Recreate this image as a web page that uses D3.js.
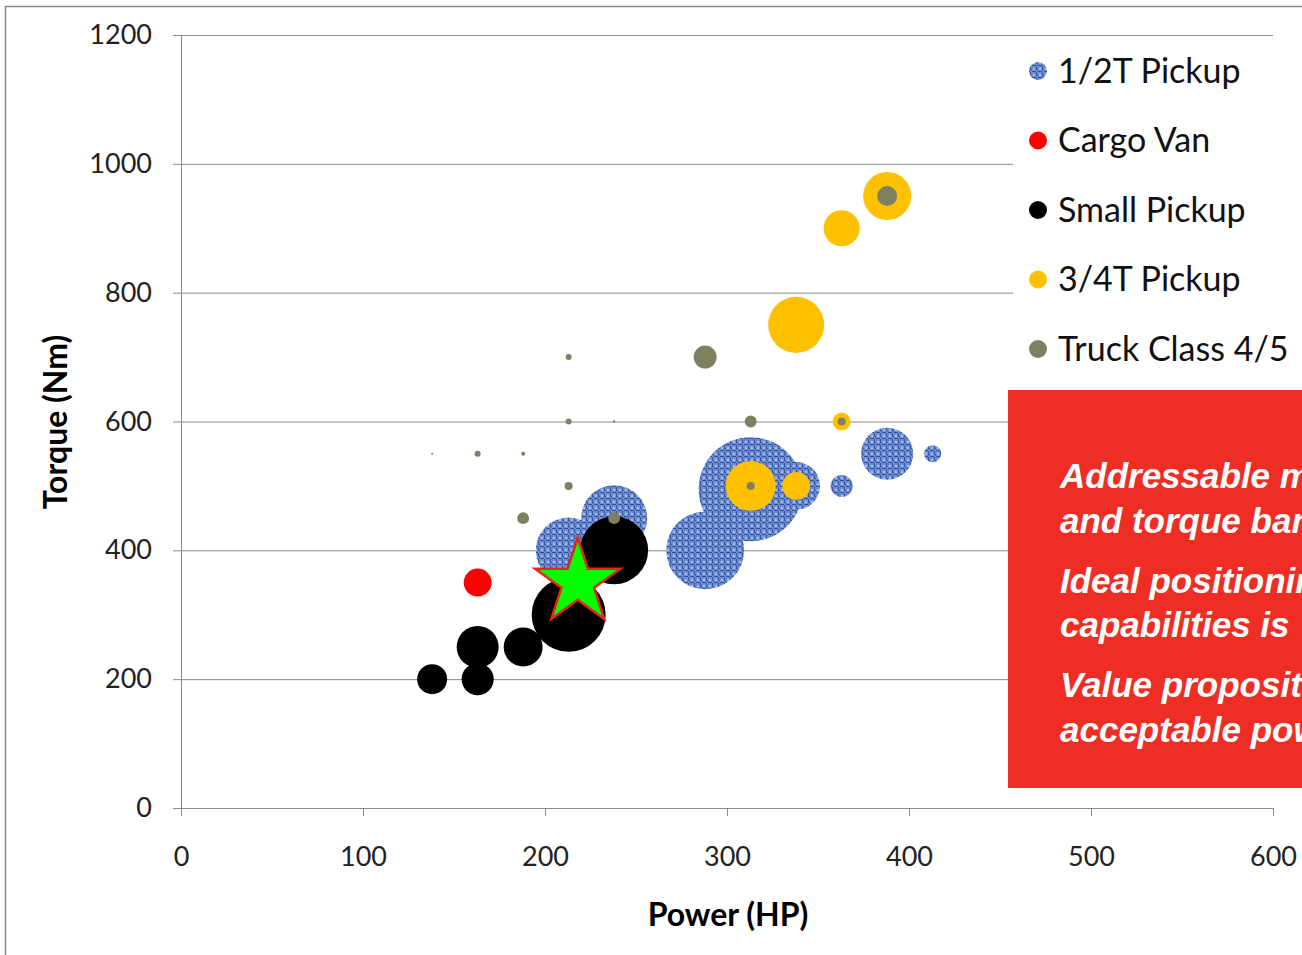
<!DOCTYPE html>
<html>
<head>
<meta charset="utf-8">
<script src="https://cdn.jsdelivr.net/npm/d3@7"></script>
<style>
  body { margin: 0; background: #fff; }
  svg { display: block; }
</style>
</head>
<body>
<div id="chart"></div>
<script>
// series names (legend order = draw order)
var seriesNames = ["1/2T Pickup", "Cargo Van", "Small Pickup", "3/4T Pickup", "Truck Class 4/5"];

// power (HP), torque (Nm) and bubble size for each series
var halfTonPower  = [213, 238, 288, 313, 338, 363, 388, 413];
var halfTonTorque = [400, 450, 400, 495, 500, 500, 550, 550];
var halfTonSize   = [40, 40, 56, 100, 21, 4.5, 25, 2.7];

var cargoVanPower  = [163];
var cargoVanTorque = [350];
var cargoVanSize   = [7.2];

var smallPickupPower  = [138, 163, 163, 188, 213, 238];
var smallPickupTorque = [200, 200, 250, 250, 300, 400];
var smallPickupSize   = [8.3, 9.5, 16.3, 14, 50.6, 42.7];

var threeQuarterPower  = [388, 363, 338, 313, 338, 363];
var threeQuarterTorque = [950, 900, 750, 500, 500, 600];
var threeQuarterSize   = [21.3, 12, 29, 23, 7.2, 3];

var truckPower  = [388, 288, 313, 363, 313, 238, 188, 213, 213, 213, 163, 188, 238, 138];
var truckTorque = [950, 700, 600, 600, 500, 450, 450, 500, 600, 700, 550, 550, 600, 550];
var truckSize   = [3.7, 4.9, 1.3, 0.6, 0.6, 1.3, 1.3, 0.6, 0.33, 0.33, 0.33, 0.15, 0.05, 0.04];

// target position (star)
var starPower = 218, starTorque = 350;

// axis ticks
var xTicks = [0, 100, 200, 300, 400, 500, 600];
var yTicks = [0, 200, 400, 600, 800, 1000, 1200];

// callout text
var calloutLines = ["Addressable market", "and torque band", "Ideal positioning",
                    "capabilities is", "Value proposition", "acceptable power"];

var series = [
  {name: seriesNames[0], power: halfTonPower, torque: halfTonTorque, size: halfTonSize, fill: "url(#denim)"},
  {name: seriesNames[1], power: cargoVanPower, torque: cargoVanTorque, size: cargoVanSize, fill: "#ff0000"},
  {name: seriesNames[2], power: smallPickupPower, torque: smallPickupTorque, size: smallPickupSize, fill: "#000000"},
  {name: seriesNames[3], power: threeQuarterPower, torque: threeQuarterTorque, size: threeQuarterSize, fill: "#ffc000"},
  {name: seriesNames[4], power: truckPower, torque: truckTorque, size: truckSize, fill: "#7f8060"}
];

var W = 1302, H = 955;
var plotLeft = 181, plotRight = 1273, plotTop = 35, plotBottom = 808;

var svg = d3.select("#chart")
  .append("svg")
    .attr("width", W)
    .attr("height", H);

// blue woven texture for the 1/2T bubbles
var defs = svg.append("defs");
var pat = defs.append("pattern")
    .attr("id", "denim")
    .attr("patternUnits", "userSpaceOnUse")
    .attr("width", 6)
    .attr("height", 6);
pat.append("rect").attr("width", 6).attr("height", 6).attr("fill", "#6f8fd4");
pat.append("rect").attr("x", 0).attr("y", 0).attr("width", 4).attr("height", 1).attr("fill", "#33509a");
pat.append("rect").attr("x", 4).attr("y", 1).attr("width", 1).attr("height", 4).attr("fill", "#37549e");
pat.append("rect").attr("x", 1).attr("y", 3).attr("width", 2).attr("height", 2).attr("fill", "#a4bdee");
pat.append("rect").attr("x", 5).attr("y", 4).attr("width", 1).attr("height", 2).attr("fill", "#4d6db8");

defs.append("clipPath").attr("id", "boxclip")
  .append("rect").attr("x", 1008).attr("y", 390).attr("width", W - 1008).attr("height", 398);

// outer frame
svg.append("path")
  .attr("d", "M5.5," + H + "V6.5H" + W)
  .attr("fill", "none")
  .attr("stroke", "#8a8a8a")
  .attr("stroke-width", 1.5);

// scales
var x = d3.scaleLinear().domain([0, 600]).range([plotLeft, plotRight]);
var y = d3.scaleLinear().domain([0, 1200]).range([plotBottom, plotTop]);
var r = d3.scaleSqrt().domain([0, 100]).range([0, 52]);

// horizontal gridlines + y axis
var yAxis = svg.append("g")
  .attr("transform", "translate(" + plotLeft + ",0)")
  .call(d3.axisLeft(y).tickValues(yTicks).tickFormat(d3.format("d")).tickSize(8).tickPadding(21));
yAxis.select(".domain").attr("stroke", "#8a8a8a");
yAxis.selectAll(".tick line").attr("stroke", "#8a8a8a");
yAxis.selectAll(".tick").append("line")
  .attr("x1", 0).attr("x2", plotRight - plotLeft)
  .attr("stroke", "#8a8a8a");
yAxis.selectAll(".tick text")
  .attr("font-family", "Lato, 'Noto Sans', sans-serif")
  .attr("font-size", 27)
  .attr("fill", "#222");

// x axis
var xAxis = svg.append("g")
  .attr("transform", "translate(0," + plotBottom + ")")
  .call(d3.axisBottom(x).tickValues(xTicks).tickFormat(d3.format("d")).tickSize(8).tickPadding(31));
xAxis.select(".domain").attr("stroke", "#8a8a8a");
xAxis.selectAll(".tick line").attr("stroke", "#8a8a8a");
xAxis.selectAll(".tick text")
  .attr("font-family", "Lato, 'Noto Sans', sans-serif")
  .attr("font-size", 27)
  .attr("fill", "#222");

// axis titles
svg.append("text")
  .attr("transform", "translate(67,422) rotate(-90)")
  .attr("text-anchor", "middle")
  .attr("font-family", "Lato, 'Noto Sans', sans-serif")
  .attr("font-weight", "bold")
  .attr("font-size", 32)
  .text("Torque (Nm)");

svg.append("text")
  .attr("x", 728)
  .attr("y", 926)
  .attr("text-anchor", "middle")
  .attr("font-family", "Lato, 'Noto Sans', sans-serif")
  .attr("font-weight", "bold")
  .attr("font-size", 32)
  .text("Power (HP)");

// legend background hides the gridlines behind it
svg.append("rect")
  .attr("x", 1013).attr("y", 45)
  .attr("width", W - 1013).attr("height", 340)
  .attr("fill", "#fff");

// bubbles
series.forEach(function(s) {
  var pts = s.power.map(function(p, i) {
    return {power: p, torque: s.torque[i], size: s.size[i]};
  });
  svg.append("g").selectAll("circle")
    .data(pts)
    .enter().append("circle")
      .attr("cx", function(d) { return x(d.power); })
      .attr("cy", function(d) { return y(d.torque); })
      .attr("r", function(d) { return r(d.size); })
      .attr("fill", s.fill);
});

// target star
svg.append("path")
  .attr("transform", "translate(" + x(starPower) + "," + y(starTorque) + ")")
  .attr("d", d3.symbol().type(d3.symbolStar).size(2270)())
  .attr("fill", "#00ff00")
  .attr("stroke", "#e8241c")
  .attr("stroke-width", 2.5);

// legend
var legend = svg.append("g")
  .selectAll("g")
  .data(series)
  .enter().append("g")
    .attr("transform", function(d, i) { return "translate(1038," + (71 + i * 69.5) + ")"; });
legend.append("circle")
  .attr("r", 9)
  .attr("fill", function(d) { return d.fill; });
legend.append("text")
  .attr("x", 20)
  .attr("dy", "0.35em")
  .attr("font-family", "Lato, 'Noto Sans', sans-serif")
  .attr("font-size", 34)
  .attr("fill", "#111")
  .text(function(d) { return d.name; });

// red callout box (runs off the right edge, as in the source slide)
svg.append("rect")
  .attr("x", 1008).attr("y", 390)
  .attr("width", W - 1008).attr("height", 398)
  .attr("fill", "#ee2e24");

var lineY = [488, 533, 593, 637, 697, 742];
svg.append("g")
  .attr("clip-path", "url(#boxclip)")
  .selectAll("text")
  .data(calloutLines)
  .enter().append("text")
    .attr("x", 1060)
    .attr("y", function(d, i) { return lineY[i]; })
    .attr("font-family", "'Liberation Sans', Arial, sans-serif")
    .attr("font-weight", "bold")
    .attr("font-style", "italic")
    .attr("font-size", 35)
    .attr("fill", "#fff")
    .text(function(d) { return d; });
</script>
</body>
</html>
